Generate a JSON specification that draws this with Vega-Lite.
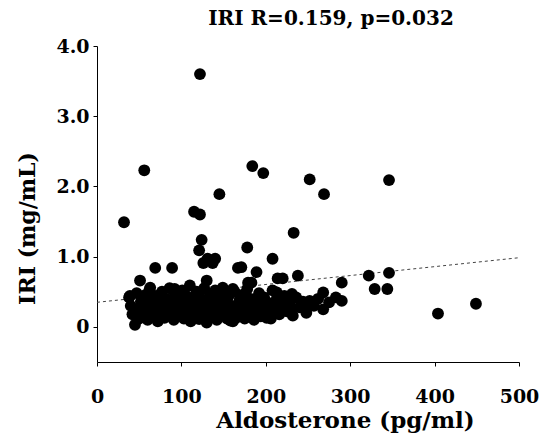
{
  "$schema": "https://vega.github.io/schema/vega-lite/v6.json",
  "width": 422,
  "height": 316,
  "autosize": "none",
  "padding": {"left": 97, "top": 46, "right": 28, "bottom": 77},
  "background": "white",
  "config": {"view": {"stroke": null}},
  "title": {"text": "IRI  R=0.159, p=0.032", "font": "DejaVu Serif", "fontSize": 20, "fontWeight": "bold", "color": "black", "anchor": "middle", "offset": 8, "dx": 23},
  "datasets": {
    "pts": [
      {"aldo": 122, "iri": 3.6}, {"aldo": 56, "iri": 2.23}, {"aldo": 184, "iri": 2.29}, {"aldo": 197, "iri": 2.19},
      {"aldo": 252, "iri": 2.1}, {"aldo": 269, "iri": 1.89}, {"aldo": 145, "iri": 1.89}, {"aldo": 115, "iri": 1.64},
      {"aldo": 122, "iri": 1.6}, {"aldo": 32, "iri": 1.49}, {"aldo": 233, "iri": 1.34}, {"aldo": 124, "iri": 1.24},
      {"aldo": 178, "iri": 1.13}, {"aldo": 121, "iri": 1.09}, {"aldo": 131, "iri": 0.97}, {"aldo": 140, "iri": 0.97},
      {"aldo": 208, "iri": 0.97}, {"aldo": 346, "iri": 2.09}, {"aldo": 322, "iri": 0.73}, {"aldo": 346, "iri": 0.77},
      {"aldo": 329, "iri": 0.54}, {"aldo": 344, "iri": 0.54}, {"aldo": 290, "iri": 0.63}, {"aldo": 290, "iri": 0.37},
      {"aldo": 404, "iri": 0.19}, {"aldo": 449, "iri": 0.33}, {"aldo": 69, "iri": 0.84}, {"aldo": 89, "iri": 0.84},
      {"aldo": 126, "iri": 0.91}, {"aldo": 137, "iri": 0.91}, {"aldo": 167, "iri": 0.84}, {"aldo": 171, "iri": 0.85},
      {"aldo": 189, "iri": 0.78}, {"aldo": 214, "iri": 0.69}, {"aldo": 220, "iri": 0.69}, {"aldo": 238, "iri": 0.73},
      {"aldo": 179, "iri": 0.63}, {"aldo": 268, "iri": 0.49}, {"aldo": 231, "iri": 0.47}, {"aldo": 213, "iri": 0.49},
      {"aldo": 252, "iri": 0.37}, {"aldo": 246, "iri": 0.28}, {"aldo": 229, "iri": 0.25}, {"aldo": 201, "iri": 0.13},
      {"aldo": 185, "iri": 0.2}, {"aldo": 165, "iri": 0.13}, {"aldo": 158, "iri": 0.09}, {"aldo": 51, "iri": 0.66},
      {"aldo": 63, "iri": 0.56}, {"aldo": 39, "iri": 0.44}, {"aldo": 45, "iri": 0.03}, {"aldo": 92, "iri": 0.54},
      {"aldo": 130, "iri": 0.66}, {"aldo": 183, "iri": 0.63}, {"aldo": 110, "iri": 0.59}, {"aldo": 149, "iri": 0.56},
      {"aldo": 161, "iri": 0.54},
      {"aldo": 38, "iri": 0.42}, {"aldo": 40, "iri": 0.3}, {"aldo": 42, "iri": 0.18}, {"aldo": 47, "iri": 0.48},
      {"aldo": 48, "iri": 0.25}, {"aldo": 50, "iri": 0.12}, {"aldo": 52, "iri": 0.36}, {"aldo": 55, "iri": 0.2},
      {"aldo": 57, "iri": 0.45}, {"aldo": 58, "iri": 0.3}, {"aldo": 60, "iri": 0.1}, {"aldo": 62, "iri": 0.52},
      {"aldo": 63, "iri": 0.22}, {"aldo": 65, "iri": 0.38}, {"aldo": 67, "iri": 0.15}, {"aldo": 68, "iri": 0.28},
      {"aldo": 70, "iri": 0.44}, {"aldo": 72, "iri": 0.08}, {"aldo": 73, "iri": 0.33}, {"aldo": 75, "iri": 0.2},
      {"aldo": 77, "iri": 0.5}, {"aldo": 78, "iri": 0.26}, {"aldo": 80, "iri": 0.13}, {"aldo": 82, "iri": 0.4},
      {"aldo": 83, "iri": 0.3}, {"aldo": 85, "iri": 0.18}, {"aldo": 86, "iri": 0.55}, {"aldo": 88, "iri": 0.24},
      {"aldo": 90, "iri": 0.35}, {"aldo": 91, "iri": 0.1}, {"aldo": 93, "iri": 0.46}, {"aldo": 95, "iri": 0.28},
      {"aldo": 96, "iri": 0.16}, {"aldo": 98, "iri": 0.38}, {"aldo": 100, "iri": 0.22}, {"aldo": 101, "iri": 0.52},
      {"aldo": 103, "iri": 0.12}, {"aldo": 105, "iri": 0.32}, {"aldo": 106, "iri": 0.44}, {"aldo": 108, "iri": 0.2},
      {"aldo": 110, "iri": 0.27}, {"aldo": 111, "iri": 0.08}, {"aldo": 113, "iri": 0.4}, {"aldo": 115, "iri": 0.16},
      {"aldo": 116, "iri": 0.34}, {"aldo": 118, "iri": 0.5}, {"aldo": 119, "iri": 0.24}, {"aldo": 121, "iri": 0.11},
      {"aldo": 122, "iri": 0.42}, {"aldo": 124, "iri": 0.3}, {"aldo": 126, "iri": 0.18}, {"aldo": 127, "iri": 0.55},
      {"aldo": 129, "iri": 0.36}, {"aldo": 130, "iri": 0.06}, {"aldo": 132, "iri": 0.26}, {"aldo": 134, "iri": 0.46},
      {"aldo": 135, "iri": 0.14}, {"aldo": 137, "iri": 0.32}, {"aldo": 139, "iri": 0.22}, {"aldo": 140, "iri": 0.52},
      {"aldo": 142, "iri": 0.1}, {"aldo": 144, "iri": 0.4}, {"aldo": 146, "iri": 0.28}, {"aldo": 147, "iri": 0.17},
      {"aldo": 149, "iri": 0.48}, {"aldo": 151, "iri": 0.24}, {"aldo": 152, "iri": 0.35}, {"aldo": 154, "iri": 0.12},
      {"aldo": 156, "iri": 0.44}, {"aldo": 158, "iri": 0.2}, {"aldo": 160, "iri": 0.3}, {"aldo": 161, "iri": 0.08},
      {"aldo": 163, "iri": 0.5}, {"aldo": 165, "iri": 0.26}, {"aldo": 167, "iri": 0.16}, {"aldo": 169, "iri": 0.38},
      {"aldo": 171, "iri": 0.22}, {"aldo": 173, "iri": 0.46}, {"aldo": 175, "iri": 0.12}, {"aldo": 176, "iri": 0.32},
      {"aldo": 178, "iri": 0.54}, {"aldo": 180, "iri": 0.18}, {"aldo": 182, "iri": 0.4}, {"aldo": 184, "iri": 0.27},
      {"aldo": 186, "iri": 0.1}, {"aldo": 188, "iri": 0.36}, {"aldo": 190, "iri": 0.22}, {"aldo": 192, "iri": 0.48},
      {"aldo": 194, "iri": 0.15}, {"aldo": 196, "iri": 0.3}, {"aldo": 198, "iri": 0.42}, {"aldo": 200, "iri": 0.2},
      {"aldo": 203, "iri": 0.34}, {"aldo": 206, "iri": 0.12}, {"aldo": 208, "iri": 0.52}, {"aldo": 210, "iri": 0.26},
      {"aldo": 213, "iri": 0.4}, {"aldo": 216, "iri": 0.18}, {"aldo": 219, "iri": 0.3}, {"aldo": 222, "iri": 0.44},
      {"aldo": 225, "iri": 0.22}, {"aldo": 228, "iri": 0.34}, {"aldo": 232, "iri": 0.16}, {"aldo": 236, "iri": 0.42},
      {"aldo": 240, "iri": 0.28}, {"aldo": 244, "iri": 0.36}, {"aldo": 248, "iri": 0.2}, {"aldo": 257, "iri": 0.3},
      {"aldo": 262, "iri": 0.4}, {"aldo": 268, "iri": 0.25}, {"aldo": 275, "iri": 0.35}, {"aldo": 283, "iri": 0.42}
    ],
    "fit": [
      {"aldo": 0, "iri": 0.35},
      {"aldo": 500, "iri": 0.985}
    ]
  },
  "layer": [
    {
      "data": {"name": "fit"},
      "mark": {"type": "line", "color": "#444444", "strokeWidth": 1, "strokeDash": [3, 3], "clip": true},
      "encoding": {
        "x": {"field": "aldo", "type": "quantitative"},
        "y": {"field": "iri", "type": "quantitative"}
      }
    },
    {
      "data": {"name": "pts"},
      "mark": {"type": "circle", "color": "black", "opacity": 1, "size": 140},
      "encoding": {
        "x": {
          "field": "aldo", "type": "quantitative",
          "scale": {"domain": [0, 500], "nice": false, "zero": false},
          "axis": {
            "title": "Aldosterone (pg/ml)", "values": [0, 100, 200, 300, 400, 500],
            "grid": false, "domainColor": "black", "tickColor": "black", "tickSize": 4,
            "labelFlush": false,
            "labelFont": "DejaVu Serif", "labelFontSize": 19, "labelFontWeight": "bold", "labelColor": "black",
            "labelPadding": 21,
            "titleFont": "DejaVu Serif", "titleFontSize": 23, "titleFontWeight": "bold", "titleColor": "black",
            "titlePadding": 3, "titleX": 248
          }
        },
        "y": {
          "field": "iri", "type": "quantitative",
          "scale": {"domain": [-0.5, 4.0], "nice": false, "zero": false},
          "axis": {
            "title": "IRI (mg/mL)", "values": [0, 1, 2, 3, 4],
            "labelExpr": "datum.value == 0 ? '0' : format(datum.value, '.1f')",
            "grid": false, "domainColor": "black", "tickColor": "black", "tickSize": 4,
            "labelFlush": false,
            "labelFont": "DejaVu Serif", "labelFontSize": 19, "labelFontWeight": "bold", "labelColor": "black",
            "labelPadding": 4,
            "titleFont": "DejaVu Serif", "titleFontSize": 22, "titleFontWeight": "bold", "titleColor": "black",
            "titlePadding": 16, "titleY": 182
          }
        }
      }
    }
  ]
}
